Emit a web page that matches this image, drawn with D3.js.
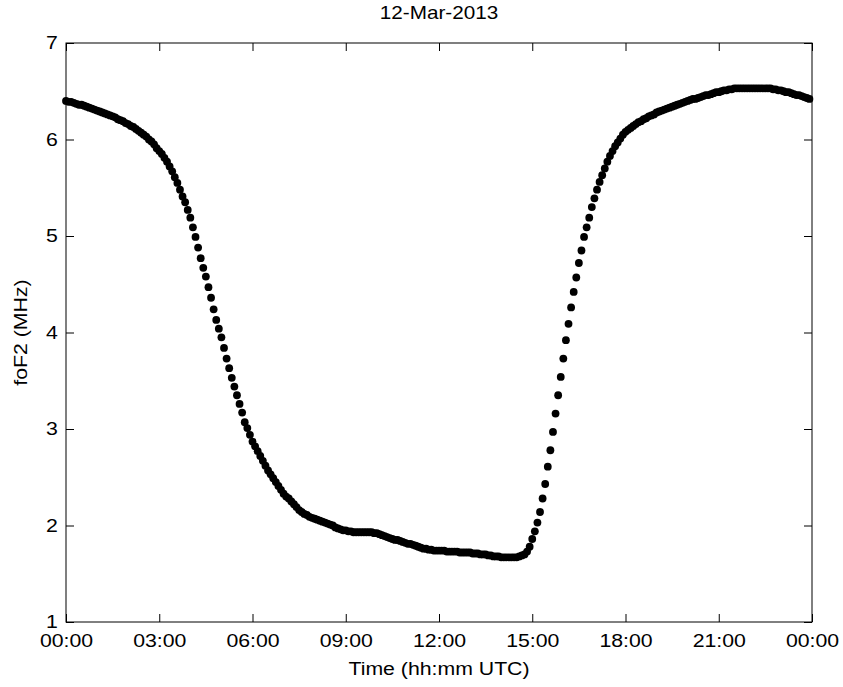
<!DOCTYPE html>
<html>
<head>
<meta charset="utf-8">
<script src="https://cdn.jsdelivr.net/npm/d3@7"></script>
<style>
  html, body { margin: 0; padding: 0; background: #fff; }
  svg { display: block; }
  text { font-family: "Liberation Sans", Arial, Helvetica, sans-serif; fill: #000; }
</style>
</head>
<body>
<svg id="chart" width="843" height="687"></svg>
<script>
// ---------------- data ----------------
const chartTitle = "12-Mar-2013";
const xLabel = "Time (hh:mm UTC)";
const yLabel = "foF2 (MHz)";
const startMinute = 0;      // first sample 00:00 UTC
const stepMinutes = 5;      // sampling interval
const xTickMinutes = [0, 180, 360, 540, 720, 900, 1080, 1260, 1440];
const xTickLabels = ["00:00","03:00","06:00","09:00","12:00","15:00","18:00","21:00","00:00"];
const yTicks = [1, 2, 3, 4, 5, 6, 7];
const xDomain = [0, 1440];
const yDomain = [1, 7];

// foF2 (MHz), one value every 5 minutes from 00:00 to 23:55
const foF2 = [
  // 00:00 - 02:55
  6.40,6.39,6.39,6.38,6.37,6.36,6.36,6.35,6.34,6.33,6.32,6.31,
  6.30,6.29,6.28,6.27,6.26,6.25,6.24,6.23,6.21,6.20,6.19,6.17,
  6.16,6.14,6.13,6.11,6.09,6.07,6.05,6.03,6.00,5.98,5.95,5.91,
  // 03:00 - 05:55
  5.88,5.85,5.81,5.77,5.72,5.67,5.61,5.55,5.48,5.41,5.35,5.27,
  5.19,5.09,4.99,4.88,4.77,4.67,4.58,4.47,4.36,4.24,4.13,4.04,
  3.95,3.84,3.73,3.63,3.53,3.44,3.35,3.26,3.17,3.07,3.01,2.94,
  // 06:00 - 08:55
  2.87,2.82,2.77,2.72,2.67,2.62,2.57,2.53,2.49,2.45,2.41,2.37,
  2.33,2.30,2.28,2.25,2.22,2.19,2.16,2.14,2.12,2.11,2.09,2.08,
  2.07,2.06,2.05,2.04,2.03,2.02,2.01,2.00,1.98,1.97,1.96,1.95,
  // 09:00 - 11:55
  1.95,1.94,1.94,1.93,1.93,1.93,1.93,1.93,1.93,1.93,1.93,1.92,
  1.92,1.91,1.90,1.89,1.88,1.87,1.86,1.85,1.85,1.84,1.83,1.82,
  1.81,1.81,1.80,1.79,1.78,1.77,1.76,1.76,1.75,1.75,1.74,1.74,
  // 12:00 - 14:55
  1.74,1.74,1.74,1.73,1.73,1.73,1.73,1.73,1.72,1.72,1.72,1.72,
  1.72,1.71,1.71,1.71,1.70,1.70,1.70,1.69,1.69,1.68,1.68,1.68,
  1.67,1.67,1.67,1.67,1.67,1.67,1.67,1.68,1.69,1.70,1.73,1.78,
  // 15:00 - 17:55
  1.86,1.94,2.03,2.14,2.28,2.43,2.61,2.78,2.97,3.16,3.35,3.54,
  3.73,3.92,4.09,4.26,4.42,4.57,4.72,4.85,4.99,5.09,5.19,5.30,
  5.39,5.48,5.56,5.63,5.70,5.77,5.83,5.88,5.93,5.97,6.01,6.05,
  // 18:00 - 20:55
  6.08,6.10,6.12,6.14,6.16,6.18,6.19,6.21,6.22,6.24,6.25,6.26,
  6.28,6.29,6.30,6.31,6.32,6.33,6.34,6.35,6.36,6.37,6.38,6.39,
  6.40,6.41,6.42,6.42,6.43,6.44,6.45,6.46,6.46,6.47,6.48,6.49,
  // 21:00 - 23:55
  6.49,6.50,6.51,6.51,6.52,6.52,6.53,6.53,6.53,6.53,6.53,6.53,
  6.53,6.53,6.53,6.53,6.53,6.53,6.53,6.53,6.53,6.52,6.52,6.51,
  6.51,6.50,6.49,6.49,6.48,6.47,6.46,6.46,6.45,6.44,6.43,6.42
];

// ---------------- layout ----------------
const W = 843, H = 687;
const M = { left: 66, right: 31, top: 43, bottom: 65 };
const FS = 18.5;        // font size
const SX = 1.15;        // horizontal stretch of the reference text

const svg = d3.select("#chart");
const x = d3.scaleLinear().domain(xDomain).range([M.left, W - M.right]);
const y = d3.scaleLinear().domain(yDomain).range([H - M.bottom, M.top]);

const points = foF2.map((v, i) => ({ t: startMinute + i * stepMinutes, v }));

// points
svg.append("g")
  .selectAll("circle")
  .data(points)
  .join("circle")
  .attr("cx", d => x(d.t))
  .attr("cy", d => y(d.v))
  .attr("r", 3.9)
  .attr("fill", "#000");

const fmtX = d => xTickLabels[xTickMinutes.indexOf(d)];

function styleAxis(g) {
  g.selectAll(".domain").remove();
  g.selectAll(".tick line").attr("stroke", "#000").attr("stroke-width", 1);
  g.selectAll(".tick text").style("font-size", FS + "px").attr("fill", "#000");
}

// bottom
svg.append("g")
  .attr("transform", `translate(0,${y(yDomain[0])})`)
  .call(d3.axisBottom(x).tickValues(xTickMinutes).tickFormat(fmtX).tickSize(-8).tickSizeOuter(0).tickPadding(12))
  .call(styleAxis)
  .call(g => g.selectAll(".tick text").attr("transform", `scale(${SX},1)`));
// top
svg.append("g")
  .attr("transform", `translate(0,${y(yDomain[1])})`)
  .call(d3.axisTop(x).tickValues(xTickMinutes).tickFormat("").tickSize(-8).tickSizeOuter(0))
  .call(styleAxis);
// left
svg.append("g")
  .attr("transform", `translate(${x(xDomain[0])},0)`)
  .call(d3.axisLeft(y).tickValues(yTicks).tickFormat(d3.format("d")).tickSize(-8).tickSizeOuter(0).tickPadding(7))
  .call(styleAxis)
  .call(g => g.selectAll(".tick text").attr("transform", `scale(${SX},1)`));
// right
svg.append("g")
  .attr("transform", `translate(${x(xDomain[1])},0)`)
  .call(d3.axisRight(y).tickValues(yTicks).tickFormat("").tickSize(-8).tickSizeOuter(0))
  .call(styleAxis);

// box
svg.append("rect")
  .attr("x", x(xDomain[0])).attr("y", y(yDomain[1]))
  .attr("width", x(xDomain[1]) - x(xDomain[0]))
  .attr("height", y(yDomain[0]) - y(yDomain[1]))
  .attr("fill", "none").attr("stroke", "#000").attr("stroke-width", 1);

const cx = (x(xDomain[0]) + x(xDomain[1])) / 2;
const cy = (y(yDomain[0]) + y(yDomain[1])) / 2;

// title
svg.append("text")
  .attr("transform", `translate(${cx},19) scale(${SX},1)`)
  .attr("text-anchor", "middle")
  .style("font-size", (FS - 0.5) + "px")
  .text(chartTitle);

// x label
svg.append("text")
  .attr("transform", `translate(${cx},675) scale(${SX},1)`)
  .attr("text-anchor", "middle")
  .style("font-size", FS + "px")
  .text(xLabel);

// y label
svg.append("text")
  .attr("transform", `translate(27,${cy}) rotate(-90) scale(${SX},1)`)
  .attr("text-anchor", "middle")
  .style("font-size", FS + "px")
  .text(yLabel);
</script>
</body>
</html>
